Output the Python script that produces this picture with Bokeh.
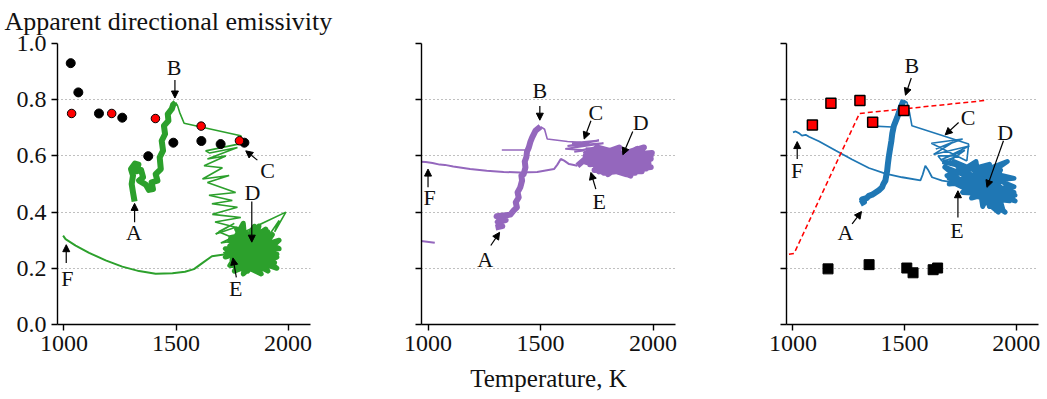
from bokeh.plotting import figure
from bokeh.layouts import row
from bokeh.models import (Range1d, Arrow, NormalHead, Label, FixedTicker, PrintfTickFormatter,
                          CustomJSTickFormatter, Title)
from bokeh.embed import file_html
from bokeh.resources import INLINE

FONT = "Liberation Serif"
X_TICKS = [1000, 1500, 2000]
Y_TICKS = [0.0, 0.2, 0.4, 0.6, 0.8, 1.0]

# ---------------- Panel 1 (green) ----------------
p1_dots_black_T = [1030, 1064, 1156, 1260, 1376, 1488, 1613, 1699, 1805]
p1_dots_black_e = [0.930, 0.826, 0.751, 0.736, 0.599, 0.647, 0.653, 0.642, 0.647]
p1_dots_red_T = [1034, 1213, 1408, 1612, 1783]
p1_dots_red_e = [0.751, 0.751, 0.733, 0.706, 0.654]

p1_band_T = [1315, 1308, 1302, 1308, 1299, 1317, 1332, 1323, 1344, 1353, 1335, 1365, 1379, 1397,
             1391, 1417, 1409, 1432, 1427, 1442, 1436, 1451, 1446, 1466, 1463, 1481, 1487, 1498]
p1_band_e = [0.438, 0.470, 0.500, 0.530, 0.553, 0.573, 0.569, 0.545, 0.550, 0.524, 0.512, 0.498, 0.479, 0.482,
             0.506, 0.512, 0.535, 0.553, 0.595, 0.619, 0.654, 0.678, 0.707, 0.725, 0.749, 0.767, 0.782, 0.790]
p1_link_T = [1498, 1507, 1516, 1536, 1789, 1796, 1778]
p1_link_e = [0.790, 0.778, 0.755, 0.716, 0.672, 0.656, 0.642]
p1_zig_T = [1778, 1632, 1650, 1774, 1640, 1722, 1625, 1707, 1618, 1737, 1640, 1766, 1647, 1751, 1660,
            1774, 1662, 1789, 1674, 1766, 1677]
p1_zig_e = [0.642, 0.618, 0.610, 0.630, 0.589, 0.600, 0.565, 0.558, 0.518, 0.530, 0.505, 0.470, 0.460, 0.441,
            0.430, 0.417, 0.392, 0.381, 0.365, 0.346, 0.322]
p1_light_T = [1677, 1760, 1690, 1780, 1700, 1990, 1940, 1960, 1900, 1730]
p1_light_e = [0.322, 0.360, 0.330, 0.300, 0.290, 0.400, 0.330, 0.370, 0.300, 0.300]
p1_core_T = [1730, 1950, 1760, 1900, 1720, 1960, 1800, 1850, 1740, 1940, 1780, 1910, 1720, 1960, 1770,
             1880, 1750, 1930, 1820, 1800, 1730, 1950, 1790, 1890, 1760, 1920, 1830, 1870, 1745, 1935,
             1810, 1860, 1790, 1900, 1840, 1820, 1760, 1880, 1780, 1900, 1800, 1930, 1760, 1870, 1820,
             1950, 1790, 1860, 1740, 1910, 1830, 1880, 1850, 1714]
p1_core_e = [0.300, 0.250, 0.190, 0.340, 0.240, 0.300, 0.180, 0.350, 0.210, 0.220, 0.330, 0.190, 0.270, 0.270, 0.340,
             0.180, 0.230, 0.320, 0.190, 0.360, 0.260, 0.200, 0.300, 0.230, 0.280, 0.280, 0.210, 0.330, 0.310, 0.250,
             0.240, 0.290, 0.270, 0.260, 0.220, 0.320, 0.250, 0.300, 0.250, 0.210, 0.310, 0.290, 0.220, 0.350, 0.200,
             0.240, 0.340, 0.190, 0.280, 0.330, 0.260, 0.230, 0.300, 0.249]
p1_tail_T = [1714, 1660, 1620, 1580, 1540, 1484, 1409, 1335, 1260, 1186, 1112, 1052, 1007, 996]
p1_tail_e = [0.249, 0.243, 0.220, 0.197, 0.188, 0.182, 0.181, 0.190, 0.206, 0.228, 0.255, 0.281, 0.304, 0.316]

# ---------------- Panel 2 (purple) ----------------
p2_stub_T = [960, 1030]
p2_stub_e = [0.298, 0.291]
p2_band_T = [1300, 1330, 1310, 1345, 1305, 1355, 1366, 1380, 1395, 1390, 1403, 1398, 1410, 1418, 1415,
             1425, 1433, 1430, 1437, 1440, 1448, 1455, 1463, 1478, 1500]
p2_band_e = [0.345, 0.350, 0.365, 0.372, 0.385, 0.390, 0.391, 0.405, 0.417, 0.435, 0.452, 0.470, 0.488, 0.512, 0.530,
             0.535, 0.559, 0.580, 0.595, 0.615, 0.630, 0.650, 0.666, 0.690, 0.704]
p2_link_T = [1500, 1518, 1530, 1620, 1679]
p2_link_e = [0.704, 0.695, 0.660, 0.651, 0.648]
p2_hbar_T = [1328, 1437]
p2_hbar_e = [0.621, 0.621]
p2_light_T = [1679, 1640, 1760, 1620, 1780, 1610, 1700, 1650, 1740, 1690]
p2_light_e = [0.648, 0.645, 0.655, 0.635, 0.645, 0.625, 0.620, 0.615, 0.630, 0.610]
p2_core_T = [1700, 1990, 1720, 1960, 1780, 1990, 1700, 1900, 1750, 1980, 1740, 1940, 1800, 1850, 1710,
             1995, 1760, 1920, 1730, 1970, 1820, 1880, 1700, 1990, 1780, 1950, 1840, 1900, 1760, 1960,
             1850, 1800, 1720, 1980, 1760, 1930, 1800, 1990, 1870, 1780, 1940, 1700, 1664]
p2_core_e = [0.620, 0.600, 0.570, 0.630, 0.540, 0.560, 0.600, 0.530, 0.630, 0.580, 0.550, 0.620, 0.535, 0.630, 0.590,
             0.610, 0.560, 0.540, 0.610, 0.555, 0.620, 0.535, 0.580, 0.590, 0.600, 0.545, 0.550, 0.610, 0.590, 0.570,
             0.570, 0.600, 0.600, 0.570, 0.545, 0.625, 0.575, 0.605, 0.540, 0.620, 0.560, 0.590, 0.565]
p2_tail_T = [1664, 1627, 1605, 1590, 1575, 1560, 1485, 1410, 1336, 1261, 1187, 1112, 1075, 1052, 1020, 990, 960]
p2_tail_e = [0.565, 0.571, 0.583, 0.589, 0.569, 0.553, 0.543, 0.541, 0.543, 0.547, 0.553, 0.562, 0.568, 0.569,
             0.575, 0.578, 0.580]

# ---------------- Panel 3 (blue) ----------------
p3_model_T = [982, 1005, 1298, 1870]
p3_model_e = [0.250, 0.253, 0.751, 0.798]
p3_sq_red_T = [1087, 1170, 1300, 1357, 1497]
p3_sq_red_e = [0.710, 0.787, 0.797, 0.720, 0.762]
p3_sq_black_T = [1157, 1341, 1510, 1538, 1628, 1648]
p3_sq_black_e = [0.198, 0.213, 0.201, 0.184, 0.195, 0.201]
p3_band_T = [1302, 1318, 1310, 1330, 1340, 1355, 1370, 1385, 1399, 1405, 1414, 1418, 1422, 1425, 1429,
             1435, 1441, 1445, 1452, 1467, 1475, 1482, 1496]
p3_band_e = [0.429, 0.436, 0.445, 0.450, 0.458, 0.462, 0.470, 0.478, 0.488, 0.500, 0.512, 0.530, 0.547, 0.570, 0.595,
             0.625, 0.654, 0.680, 0.707, 0.737, 0.755, 0.772, 0.798]
p3_link_T = [1496, 1511, 1522, 1533, 1787, 1779]
p3_link_e = [0.798, 0.790, 0.755, 0.707, 0.642, 0.582]
p3_hbar_T = [1340, 1444]
p3_hbar_e = [0.707, 0.703]
p3_light_T = [1779, 1620, 1760, 1640, 1720, 1630, 1790, 1660, 1770, 1680, 1650, 1740, 1670]
p3_light_e = [0.582, 0.645, 0.660, 0.625, 0.650, 0.605, 0.635, 0.585, 0.620, 0.570, 0.600, 0.600, 0.580]
p3_core_T = [1670, 1990, 1700, 1960, 1760, 1995, 1680, 1920, 1720, 1990, 1800, 1880, 1690, 1950, 1740,
             1995, 1770, 1930, 1850, 1820, 1700, 1970, 1780, 1900, 1740, 1960, 1830, 1870, 1800, 1920,
             1850, 1990, 1880, 1960, 1820, 1940, 1900, 1970, 1860, 1712]
p3_core_e = [0.580, 0.520, 0.500, 0.580, 0.470, 0.460, 0.560, 0.400, 0.580, 0.490, 0.450, 0.570, 0.530, 0.400, 0.560,
             0.440, 0.490, 0.550, 0.420, 0.580, 0.520, 0.470, 0.540, 0.440, 0.500, 0.520, 0.480, 0.510, 0.530, 0.470,
             0.500, 0.470, 0.420, 0.490, 0.460, 0.410, 0.520, 0.440, 0.450, 0.507]
p3_tail_T = [1712, 1668, 1623, 1605, 1593, 1581, 1571, 1489, 1414, 1340, 1265, 1191, 1116, 1072, 1057, 1040,
             1027, 1012, 1000]
p3_tail_e = [0.507, 0.512, 0.524, 0.551, 0.565, 0.533, 0.513, 0.524, 0.537, 0.557, 0.587, 0.619, 0.652, 0.668,
             0.675, 0.672, 0.681, 0.687, 0.684]

# annotations: letter, text T, text e, arrow tail T, tail e, head T, head e
p1_notes = [("A", 1312, 0.328, 1315, 0.364, 1315, 0.431),
            ("B", 1491, 0.915, 1495, 0.870, 1495, 0.806),
            ("C", 1908, 0.547, 1863, 0.585, 1811, 0.618),
            ("D", 1841, 0.470, 1838, 0.438, 1838, 0.293),
            ("E", 1766, 0.127, 1769, 0.168, 1754, 0.237),
            ("F", 1015, 0.162, 1010, 0.219, 1010, 0.284)]
p2_notes = [("A", 1254, 0.233, 1279, 0.281, 1318, 0.328),
            ("B", 1497, 0.832, 1497, 0.778, 1497, 0.727),
            ("C", 1746, 0.755, 1724, 0.725, 1694, 0.660),
            ("D", 1945, 0.719, 1910, 0.687, 1866, 0.604),
            ("E", 1761, 0.438, 1746, 0.482, 1724, 0.541),
            ("F", 1007, 0.452, 1000, 0.488, 1000, 0.553)]
p3_notes = [("A", 1235, 0.328, 1265, 0.358, 1307, 0.402),
            ("B", 1533, 0.921, 1530, 0.877, 1504, 0.816),
            ("C", 1784, 0.737, 1742, 0.719, 1682, 0.675),
            ("D", 1951, 0.684, 1943, 0.654, 1869, 0.488),
            ("E", 1735, 0.334, 1739, 0.381, 1739, 0.476),
            ("F", 1019, 0.547, 1019, 0.589, 1019, 0.651)]


def make_fig(fw, left, right, show_ylabels):
    p = figure(frame_width=fw, frame_height=281, min_border_left=left, min_border_right=right,
               min_border_top=43, min_border_bottom=75, x_range=Range1d(971, 2100), y_range=Range1d(0, 1),
               output_backend="svg", toolbar_location=None)
    p.outline_line_color = None
    p.background_fill_color = "white"
    p.border_fill_color = "white"
    p.xgrid.visible = False
    p.ygrid.ticker = FixedTicker(ticks=Y_TICKS)
    p.ygrid.grid_line_color = "#808080"
    p.ygrid.grid_line_dash = "1 3"
    p.ygrid.grid_line_width = 1
    p.xaxis.ticker = FixedTicker(ticks=X_TICKS)
    p.yaxis.ticker = FixedTicker(ticks=Y_TICKS)
    p.yaxis.formatter = PrintfTickFormatter(format="%.1f")
    for ax in (p.xaxis, p.yaxis):
        ax.axis_line_color = "black"
        ax.axis_line_width = 1.4
        ax.major_tick_line_color = "black"
        ax.major_tick_line_width = 1.4
        ax.major_tick_out = 6
        ax.major_tick_in = 0
        ax.minor_tick_line_color = None
        ax.major_label_text_font = FONT
        ax.major_label_text_font_size = "24px"
        ax.major_label_text_color = "#111111"
        ax.major_label_standoff = 5
    if not show_ylabels:
        p.yaxis.formatter = CustomJSTickFormatter(code="return ''")
    return p


def add_notes(p, notes):
    for (t, tx, ty, x0, y0, x1, y1) in notes:
        p.add_layout(Arrow(end=NormalHead(size=7, fill_color="black", line_color="black"),
                           x_start=x0, y_start=y0, x_end=x1, y_end=y1,
                           line_color="black", line_width=1.2))
        p.add_layout(Label(x=tx, y=ty, text=t, text_font=FONT, text_font_size="22px",
                           text_align="center", text_baseline="middle", text_color="#111111"))


GREEN, PURPLE, BLUE = "#2ca02c", "#9467bd", "#1f77b4"

# Panel 1
p1 = make_fig(253, 57, 55, True)
p1.title = Title(text="Apparent directional emissivity", align="left", offset=-53, standoff=11,
                 vertical_align="top", text_line_height=0.6,
                 text_font=FONT, text_font_size="26px", text_font_style="normal", text_color="#111111")
p1.line(p1_band_T, p1_band_e, line_color=GREEN, line_width=6, line_join="round")
p1.line(p1_link_T, p1_link_e, line_color=GREEN, line_width=1.6)
p1.line(p1_zig_T, p1_zig_e, line_color=GREEN, line_width=1.6)
p1.line(p1_light_T, p1_light_e, line_color=GREEN, line_width=1.6)
p1.line(p1_core_T, p1_core_e, line_color=GREEN, line_width=5, line_join="round")
p1.line(p1_tail_T, p1_tail_e, line_color=GREEN, line_width=2)
p1.scatter(p1_dots_black_T, p1_dots_black_e, marker="circle", size=9, color="black")
p1.scatter(p1_dots_red_T, p1_dots_red_e, marker="circle", size=8.5, fill_color="red", line_color="black", line_width=1)
add_notes(p1, p1_notes)

# Panel 2
p2 = make_fig(254, 56, 55, False)
p2.xaxis.axis_label = "Temperature, K"
p2.xaxis.axis_label_text_font = FONT
p2.xaxis.axis_label_text_font_size = "25px"
p2.xaxis.axis_label_text_font_style = "normal"
p2.xaxis.axis_label_text_color = "#111111"
p2.xaxis.axis_label_standoff = 11
p2.line(p2_stub_T, p2_stub_e, line_color=PURPLE, line_width=2)
p2.line(p2_band_T, p2_band_e, line_color=PURPLE, line_width=6, line_join="round")
p2.line(p2_link_T, p2_link_e, line_color=PURPLE, line_width=1.6)
p2.line(p2_hbar_T, p2_hbar_e, line_color=PURPLE, line_width=1.6)
p2.line(p2_light_T, p2_light_e, line_color=PURPLE, line_width=2)
p2.line(p2_core_T, p2_core_e, line_color=PURPLE, line_width=6, line_join="round")
p2.line(p2_tail_T, p2_tail_e, line_color=PURPLE, line_width=2)
add_notes(p2, p2_notes)

# Panel 3
p3 = make_fig(252, 56, 9, False)
p3.line(p3_band_T, p3_band_e, line_color=BLUE, line_width=6, line_join="round")
p3.line(p3_link_T, p3_link_e, line_color=BLUE, line_width=1.6)
p3.line(p3_hbar_T, p3_hbar_e, line_color=BLUE, line_width=1.6)
p3.line(p3_light_T, p3_light_e, line_color=BLUE, line_width=1.6)
p3.line(p3_core_T, p3_core_e, line_color=BLUE, line_width=5, line_join="round")
p3.line(p3_tail_T, p3_tail_e, line_color=BLUE, line_width=1.8)
p3.line(p3_model_T, p3_model_e, line_color="red", line_width=1.5, line_dash="5 3")
p3.scatter(p3_sq_red_T, p3_sq_red_e, marker="square", size=10, fill_color="red", line_color="black", line_width=1.5)
p3.scatter(p3_sq_black_T, p3_sq_black_e, marker="square", size=10, color="black")
add_notes(p3, p3_notes)

layout = row(p1, p2, p3)
open("out.html", "w").write(file_html(layout, INLINE))
